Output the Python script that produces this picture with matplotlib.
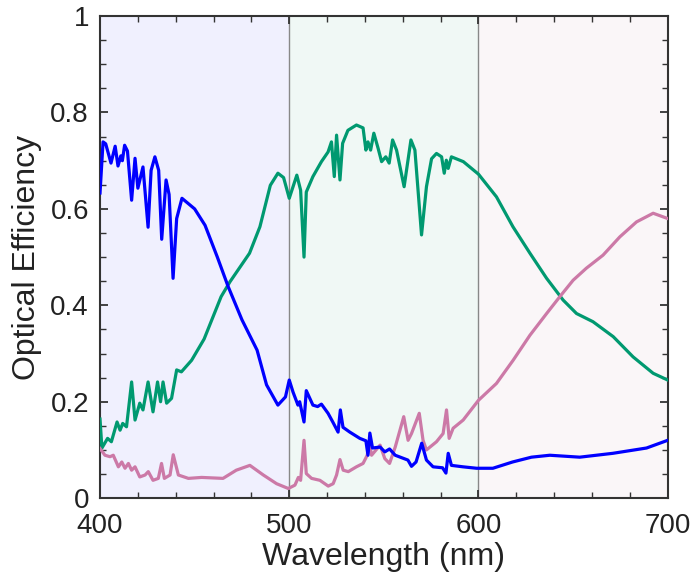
import matplotlib
matplotlib.use("Agg")
import matplotlib.pyplot as plt
from matplotlib.ticker import MultipleLocator, FuncFormatter

plt.rcParams['font.family'] = ['Liberation Sans', 'DejaVu Sans']

# ---- data ----
blue_x = [400, 401.6, 403, 405.8, 408, 409.5, 411, 411.8, 413, 414.5, 416.7, 418.5, 420, 422.7,
          425.4, 427, 429, 431, 432.6, 434.9, 436.5, 438.6, 440.5, 443.3, 450, 455.5, 462, 467.6,
          475, 483, 488, 494, 498, 500, 502, 504.6, 505.5, 507.8, 509, 512.5, 515, 517, 520.5,
          523, 525.8, 527, 528.4, 532, 537.3, 540.5, 541.6, 542.6, 544, 548, 550.5, 553, 556,
          560, 562.7, 564.6, 567, 570, 572.5, 576, 581, 582.8, 584, 585.7, 591.8, 599, 607.6,
          618, 628, 637.7, 653.5, 671, 688.8, 700]
blue_y = [0.633, 0.739, 0.735, 0.695, 0.73, 0.689, 0.71, 0.70, 0.732, 0.72, 0.618, 0.705, 0.643,
          0.687, 0.562, 0.68, 0.708, 0.68, 0.537, 0.66, 0.63, 0.456, 0.58, 0.622, 0.6, 0.566,
          0.5, 0.44, 0.37, 0.307, 0.235, 0.193, 0.21, 0.245, 0.22, 0.193, 0.2, 0.158, 0.223,
          0.193, 0.19, 0.195, 0.176, 0.158, 0.137, 0.183, 0.147, 0.137, 0.124, 0.119, 0.089,
          0.135, 0.104, 0.106, 0.096, 0.102, 0.089, 0.083, 0.079, 0.066, 0.075, 0.114, 0.079,
          0.065, 0.063, 0.052, 0.093, 0.068, 0.065, 0.062, 0.062, 0.075, 0.085, 0.089, 0.085,
          0.093, 0.104, 0.12]

green_x = [400, 401, 404, 406, 409, 410.6, 412, 414, 416.7, 418.5, 421, 422.7, 425.4, 428, 430.4,
           432, 433.3, 435.2, 437.8, 440.5, 443, 448.4, 455, 464, 468.7, 479, 484.5, 490, 494,
           497, 500, 504, 506, 507.8, 509, 512.5, 517, 520.5, 522.3, 523.8, 525, 526.8, 528.2,
           531, 535.5, 539, 540.5, 541.6, 543, 544.7, 547, 548.8, 551, 552.8, 554.6, 556.7,
           560.7, 564.3, 566.4, 569.9, 572.5, 575.2, 577.8, 580.5, 581.9, 583, 584, 585.7, 592,
           600, 609.5, 618.2, 627.2, 636, 644.7, 651.8, 660.5, 671.2, 681.7, 692.3, 700]
green_y = [0.164, 0.104, 0.124, 0.117, 0.158, 0.141, 0.155, 0.148, 0.241, 0.162, 0.197, 0.183,
           0.241, 0.179, 0.241, 0.2, 0.241, 0.197, 0.207, 0.266, 0.262, 0.286, 0.33, 0.418,
           0.449, 0.508, 0.563, 0.649, 0.674, 0.665, 0.622, 0.67, 0.639, 0.5, 0.635, 0.667,
           0.698, 0.718, 0.739, 0.667, 0.753, 0.66, 0.736, 0.763, 0.774, 0.768, 0.722, 0.739,
           0.722, 0.757, 0.725, 0.698, 0.708, 0.695, 0.743, 0.722, 0.646, 0.743, 0.722, 0.546,
           0.646, 0.704, 0.715, 0.708, 0.674, 0.701, 0.684, 0.708, 0.698, 0.672, 0.625, 0.563,
           0.508, 0.456, 0.411, 0.383, 0.366, 0.335, 0.293, 0.259, 0.245]

pink_x = [400, 402.6, 405.3, 407, 409.7, 411.5, 413.2, 415, 416.7, 418.5, 421, 423.8, 425.5, 428,
          430.8, 432.5, 434, 437, 438.7, 441.4, 446.7, 453.7, 465, 472, 479.2, 486.3, 493.3,
          499.5, 503, 504.8, 506, 507.8, 509, 511.8, 516.2, 520.6, 523.2, 525, 526.8, 528.5,
          531.2, 535.5, 539, 541.2, 542.2, 543.5, 548, 550.5, 553, 556, 560.5, 562.8, 564.6,
          568.7, 570.7, 572.5, 577.8, 581.3, 583.1, 584.5, 586.6, 591.9, 600, 609.5, 618.3,
          627.2, 636, 643, 650, 657, 665.8, 674.7, 683.5, 692.3, 700]
pink_y = [0.103, 0.089, 0.086, 0.089, 0.065, 0.075, 0.062, 0.072, 0.058, 0.065, 0.044, 0.048,
          0.055, 0.037, 0.041, 0.072, 0.041, 0.048, 0.09, 0.048, 0.041, 0.043, 0.041, 0.058,
          0.068, 0.048, 0.03, 0.02, 0.027, 0.043, 0.037, 0.12, 0.051, 0.041, 0.037, 0.025,
          0.03, 0.048, 0.08, 0.058, 0.055, 0.065, 0.072, 0.089, 0.117, 0.089, 0.11, 0.082,
          0.072, 0.106, 0.169, 0.12, 0.134, 0.176, 0.12, 0.1, 0.117, 0.134, 0.183, 0.124, 0.145,
          0.162, 0.203, 0.238, 0.286, 0.338, 0.383, 0.418, 0.452, 0.477, 0.504, 0.542, 0.573,
          0.591, 0.58]

bands = [(400, 500), (500, 600), (600, 700)]
band_colors = ['#f0f0fe', '#f0f8f5', '#faf6f8']

x_ticks = [400, 500, 600, 700]
y_ticks = [0, 0.2, 0.4, 0.6, 0.8, 1]

# ---- figure ----
fig = plt.figure(figsize=(6.97, 5.84), dpi=100)
ax = fig.add_axes([0.1435, 0.147, 0.8145, 0.8255])

for (a, b), c in zip(bands, band_colors):
    ax.axvspan(a, b, color=c, lw=0, zorder=0)
for v in [500, 600]:
    ax.axvline(v, color='#888888', lw=1.0, zorder=1)

ax.plot(green_x, green_y, color='#009970', lw=2.3, zorder=3, solid_joinstyle='round')
ax.plot(pink_x, pink_y, color='#cc79a7', lw=2.3, zorder=3, solid_joinstyle='round')
ax.plot(blue_x, blue_y, color='#0000ff', lw=2.3, zorder=4, solid_joinstyle='round')

ax.set_xlim(400, 700)
ax.set_ylim(0, 1)
ax.set_xticks(x_ticks)
ax.set_yticks(y_ticks)
ax.xaxis.set_minor_locator(MultipleLocator(20))
ax.yaxis.set_minor_locator(MultipleLocator(0.05))
ax.yaxis.set_major_formatter(FuncFormatter(lambda v, p: f"{v:g}"))

ax.tick_params(which='both', direction='in', top=True, right=True, color='#333333',
               labelsize=20, labelcolor='#222222')
ax.tick_params(which='major', length=6, width=1.3)
ax.tick_params(axis='x', which='major', pad=11)
ax.tick_params(axis='y', which='major', pad=8)
ax.tick_params(which='minor', length=4, width=1.0)
for s in ax.spines.values():
    s.set_color('#333333')
    s.set_linewidth(1.5)

ax.set_xlabel('Wavelength (nm)', fontsize=23, color='#222222', labelpad=2)
ax.set_ylabel('Optical Efficiency', fontsize=23, color='#222222', labelpad=6)

fig.savefig('out.png', dpi=100)
